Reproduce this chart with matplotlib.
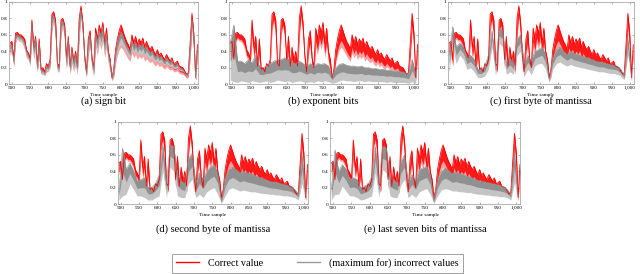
import matplotlib.pyplot as plt
import numpy as np
from matplotlib.ticker import FuncFormatter

# time grid for the correct-value band (every 5 samples)
t_fine = np.arange(495, 1011, 5)
# time grid for the incorrect-value bands (every 10 samples)
t_coarse = np.arange(495, 1006, 10)

correct_hi = [0.50, 0.52, 0.30, 0.62, 0.63, 0.60, 0.60, 0.58, 0.55, 0.42,
              0.38, 0.32, 0.78, 0.45, 0.58, 0.22, 0.55, 0.18, 0.20, 0.15,
              0.25, 0.22, 0.30, 0.85, 0.88, 0.78, 0.25, 0.22, 0.78, 0.80,
              0.72, 0.30, 0.58, 0.22, 0.45, 0.28, 0.40, 0.22, 0.80, 0.95,
              0.75, 0.35, 0.15, 0.55, 0.65, 0.32, 0.20, 0.68, 0.55, 0.72,
              0.62, 0.75, 0.50, 0.68, 0.40, 0.30, 0.08, 0.18, 0.42, 0.55,
              0.65, 0.72, 0.65, 0.58, 0.52, 0.48, 0.42, 0.60, 0.50, 0.58,
              0.48, 0.55, 0.50, 0.56, 0.45, 0.52, 0.46, 0.42, 0.46, 0.40,
              0.36, 0.42, 0.35, 0.38, 0.33, 0.30, 0.36, 0.32, 0.28, 0.32,
              0.25, 0.26, 0.28, 0.22, 0.21, 0.20, 0.16, 0.12, 0.14, 0.50,
              0.86, 0.62, 0.08, 0.48]
correct_lo = [0.35, 0.40, 0.20, 0.50, 0.55, 0.52, 0.52, 0.48, 0.42, 0.32,
              0.30, 0.22, 0.55, 0.30, 0.40, 0.15, 0.30, 0.12, 0.12, 0.10,
              0.15, 0.15, 0.20, 0.65, 0.75, 0.55, 0.15, 0.15, 0.60, 0.68,
              0.55, 0.18, 0.35, 0.12, 0.25, 0.15, 0.22, 0.12, 0.55, 0.80,
              0.55, 0.20, 0.08, 0.35, 0.45, 0.18, 0.10, 0.45, 0.35, 0.50,
              0.42, 0.52, 0.32, 0.45, 0.25, 0.15, 0.04, 0.08, 0.25, 0.35,
              0.42, 0.45, 0.42, 0.38, 0.34, 0.30, 0.28, 0.38, 0.32, 0.36,
              0.30, 0.34, 0.31, 0.34, 0.28, 0.31, 0.28, 0.26, 0.28, 0.24,
              0.22, 0.25, 0.21, 0.23, 0.20, 0.18, 0.21, 0.19, 0.17, 0.18,
              0.15, 0.15, 0.16, 0.13, 0.12, 0.12, 0.10, 0.07, 0.08, 0.30,
              0.65, 0.40, 0.04, 0.35]

# (a) sign bit: incorrect values follow the correct one closely (fine grid)
sign_hi = [0.46, 0.48, 0.28, 0.58, 0.60, 0.58, 0.57, 0.55, 0.50, 0.40,
           0.35, 0.28, 0.74, 0.42, 0.55, 0.20, 0.50, 0.16, 0.17, 0.13,
           0.22, 0.20, 0.27, 0.80, 0.84, 0.72, 0.22, 0.20, 0.74, 0.77,
           0.68, 0.27, 0.54, 0.20, 0.42, 0.25, 0.37, 0.20, 0.76, 0.90,
           0.70, 0.32, 0.13, 0.50, 0.60, 0.29, 0.18, 0.62, 0.50, 0.66,
           0.57, 0.70, 0.46, 0.62, 0.37, 0.27, 0.07, 0.16, 0.38, 0.50,
           0.58, 0.64, 0.58, 0.52, 0.47, 0.43, 0.38, 0.53, 0.45, 0.51,
           0.43, 0.49, 0.45, 0.50, 0.41, 0.46, 0.41, 0.38, 0.41, 0.36,
           0.33, 0.37, 0.32, 0.34, 0.30, 0.27, 0.32, 0.29, 0.26, 0.29,
           0.23, 0.23, 0.25, 0.20, 0.19, 0.18, 0.14, 0.11, 0.13, 0.45,
           0.80, 0.58, 0.07, 0.44]
sign_lo = [0.36, 0.42, 0.22, 0.52, 0.56, 0.53, 0.53, 0.50, 0.44, 0.34,
           0.31, 0.24, 0.58, 0.32, 0.43, 0.16, 0.33, 0.13, 0.13, 0.11,
           0.17, 0.16, 0.22, 0.68, 0.77, 0.58, 0.16, 0.16, 0.63, 0.70,
           0.58, 0.20, 0.38, 0.13, 0.27, 0.17, 0.24, 0.13, 0.58, 0.82,
           0.58, 0.22, 0.09, 0.38, 0.48, 0.20, 0.11, 0.48, 0.38, 0.53,
           0.45, 0.55, 0.35, 0.48, 0.27, 0.17, 0.05, 0.10, 0.28, 0.38,
           0.46, 0.49, 0.46, 0.42, 0.38, 0.34, 0.32, 0.42, 0.36, 0.40,
           0.34, 0.38, 0.35, 0.38, 0.32, 0.35, 0.32, 0.30, 0.32, 0.28,
           0.26, 0.29, 0.25, 0.27, 0.24, 0.22, 0.25, 0.23, 0.21, 0.22,
           0.19, 0.19, 0.20, 0.17, 0.16, 0.16, 0.13, 0.09, 0.10, 0.33,
           0.68, 0.44, 0.05, 0.38]

# (b) exponent bits (coarse grid)
expo_hi = [0.50, 0.72, 0.28, 0.28, 0.25, 0.30, 0.26, 0.35, 0.22, 0.20,
           0.22, 0.25, 0.28, 0.30, 0.30, 0.32, 0.30, 0.26, 0.25, 0.28,
           0.25, 0.22, 0.25, 0.22, 0.25, 0.24, 0.25, 0.22, 0.10, 0.20,
           0.24, 0.25, 0.23, 0.22, 0.22, 0.21, 0.22, 0.20, 0.20, 0.19,
           0.19, 0.18, 0.18, 0.17, 0.17, 0.16, 0.16, 0.15, 0.14, 0.12,
           0.30, 0.12]
expo_lo = [0.05, 0.03, 0.02, 0.04, 0.03, 0.02, 0.04, 0.03, 0.02, 0.03,
           0.04, 0.02, 0.03, 0.05, 0.04, 0.03, 0.04, 0.02, 0.03, 0.04,
           0.03, 0.02, 0.03, 0.02, 0.04, 0.03, 0.04, 0.03, 0.01, 0.02,
           0.04, 0.05, 0.04, 0.04, 0.03, 0.04, 0.04, 0.03, 0.04, 0.03,
           0.03, 0.03, 0.03, 0.02, 0.03, 0.02, 0.02, 0.02, 0.02, 0.01,
           0.03, 0.01]

# (c) first byte of mantissa
byte1_hi = [0.35, 0.70, 0.45, 0.50, 0.45, 0.32, 0.35, 0.30, 0.18, 0.18,
            0.22, 0.35, 0.65, 0.22, 0.68, 0.65, 0.25, 0.32, 0.25, 0.55,
            0.60, 0.25, 0.35, 0.28, 0.40, 0.42, 0.45, 0.35, 0.06, 0.32,
            0.42, 0.45, 0.40, 0.36, 0.40, 0.37, 0.36, 0.34, 0.33, 0.31,
            0.30, 0.28, 0.27, 0.27, 0.25, 0.24, 0.23, 0.22, 0.18, 0.10,
            0.55, 0.10]
byte1_lo = [0.15, 0.45, 0.25, 0.35, 0.30, 0.18, 0.20, 0.15, 0.08, 0.08,
            0.10, 0.18, 0.45, 0.10, 0.50, 0.45, 0.12, 0.15, 0.12, 0.35,
            0.40, 0.10, 0.18, 0.12, 0.22, 0.25, 0.25, 0.18, 0.02, 0.18,
            0.25, 0.27, 0.24, 0.22, 0.24, 0.22, 0.21, 0.20, 0.19, 0.18,
            0.17, 0.16, 0.15, 0.15, 0.14, 0.13, 0.13, 0.12, 0.10, 0.05,
            0.35, 0.04]

# (d) second byte of mantissa
byte2_hi = [0.15, 0.68, 0.42, 0.50, 0.40, 0.28, 0.30, 0.32, 0.20, 0.20,
            0.25, 0.35, 0.72, 0.25, 0.72, 0.70, 0.35, 0.28, 0.25, 0.55,
            0.62, 0.25, 0.38, 0.30, 0.40, 0.45, 0.48, 0.38, 0.03, 0.32,
            0.42, 0.45, 0.42, 0.38, 0.40, 0.38, 0.37, 0.35, 0.33, 0.32,
            0.30, 0.28, 0.27, 0.27, 0.25, 0.24, 0.23, 0.22, 0.18, 0.12,
            0.60, 0.10]
byte2_lo = [0.05, 0.10, 0.12, 0.25, 0.18, 0.10, 0.10, 0.08, 0.05, 0.05,
            0.08, 0.10, 0.40, 0.08, 0.45, 0.40, 0.10, 0.08, 0.08, 0.25,
            0.30, 0.08, 0.12, 0.08, 0.15, 0.18, 0.20, 0.12, 0.01, 0.10,
            0.18, 0.20, 0.18, 0.16, 0.17, 0.16, 0.15, 0.15, 0.14, 0.13,
            0.13, 0.12, 0.12, 0.11, 0.11, 0.10, 0.10, 0.09, 0.08, 0.05,
            0.25, 0.03]

# (e) last seven bits of mantissa
last7_hi = [0.18, 0.66, 0.40, 0.48, 0.42, 0.30, 0.32, 0.30, 0.20, 0.22,
            0.24, 0.33, 0.70, 0.24, 0.70, 0.68, 0.33, 0.30, 0.26, 0.52,
            0.60, 0.26, 0.36, 0.28, 0.42, 0.44, 0.46, 0.36, 0.03, 0.30,
            0.40, 0.44, 0.41, 0.37, 0.39, 0.37, 0.36, 0.34, 0.33, 0.31,
            0.29, 0.28, 0.27, 0.26, 0.25, 0.24, 0.23, 0.21, 0.18, 0.12,
            0.62, 0.10]
last7_lo = [0.05, 0.12, 0.12, 0.22, 0.16, 0.10, 0.10, 0.08, 0.05, 0.06,
            0.08, 0.10, 0.38, 0.08, 0.42, 0.38, 0.10, 0.08, 0.08, 0.24,
            0.30, 0.08, 0.12, 0.08, 0.15, 0.17, 0.19, 0.12, 0.01, 0.10,
            0.17, 0.19, 0.18, 0.16, 0.16, 0.15, 0.15, 0.14, 0.14, 0.13,
            0.12, 0.12, 0.11, 0.11, 0.10, 0.10, 0.09, 0.09, 0.08, 0.05,
            0.26, 0.03]

captions = ['(a) sign bit', '(b) exponent bits', '(c) first byte of mantissa',
            '(d) second byte of mantissa', '(e) last seven bits of mantissa']

plt.rcParams['font.family'] = ['Liberation Serif', 'DejaVu Serif']

fig = plt.figure(figsize=(6.4, 2.74), dpi=100)

# [left, bottom, width, height] in figure fractions
boxes = [[0.014, 0.693, 0.295, 0.300],
         [0.358, 0.693, 0.295, 0.300],
         [0.700, 0.693, 0.290, 0.300],
         [0.184, 0.255, 0.297, 0.300],
         [0.516, 0.255, 0.297, 0.300]]
caption_y = [0.631, 0.631, 0.631, 0.164, 0.164]

panels = [(t_fine, sign_lo, sign_hi),
          (t_coarse, expo_lo, expo_hi),
          (t_coarse, byte1_lo, byte1_hi),
          (t_coarse, byte2_lo, byte2_hi),
          (t_coarse, last7_lo, last7_hi)]

c_lo = np.array(correct_lo)
c_hi = np.array(correct_hi)

for box, (tg, g_lo, g_hi), cap, cy in zip(boxes, panels, captions, caption_y):
    ax = fig.add_axes(box)
    g_lo = np.array(g_lo)
    g_hi = np.array(g_hi)
    ax.fill_between(t_fine, c_lo, c_hi, color='#ffa0a0', lw=0)
    ax.fill_between(t_fine, c_lo + (c_hi - c_lo) * 0.3, c_hi, color='#ff1a1a', lw=0)
    ax.plot(t_fine, c_hi, color='#ff0000', lw=0.6)
    ax.fill_between(tg, g_lo, g_hi, color='#c4c4c4', lw=0)
    ax.fill_between(tg, (g_lo + g_hi) / 2, g_hi, color='#909090', lw=0)
    ax.plot(tg, g_hi, color='#888888', lw=0.4)

    ax.set_xlim(492, 1011)
    ax.set_ylim(0, 1)
    ax.set_xticks(np.arange(500, 1001, 50))
    ax.set_yticks([0, 0.2, 0.4, 0.6, 0.8, 1])
    ax.xaxis.set_major_formatter(FuncFormatter(lambda v, p: '{:,}'.format(int(v))))
    ax.yaxis.set_major_formatter(FuncFormatter(lambda v, p: '{:g}'.format(v)))
    ax.tick_params(labelsize=3.8, direction='in', length=1.5, width=0.4,
                   color='#777777', pad=1.2, top=True, right=True)
    for s in ax.spines.values():
        s.set_color('#999999')
        s.set_linewidth(0.5)
    ax.set_xlabel('Time sample', fontsize=3.8, labelpad=2.0)
    fig.text(box[0] + box[2] / 2, cy, cap, ha='center', va='center', fontsize=7.5)

handles = [plt.Line2D([], [], color='red', lw=1.0),
           plt.Line2D([], [], color='#9a9a9a', lw=1.0)]
leg = fig.legend(handles, ['Correct value', '(maximum for) incorrect values'],
                 loc='center', bbox_to_anchor=(0.496, 0.04), ncol=2,
                 fontsize=7.3, frameon=True, fancybox=False, handlelength=2.2,
                 handletextpad=0.9, columnspacing=3.4, borderpad=0.45)
leg.get_frame().set_edgecolor('#888888')
leg.get_frame().set_linewidth(0.7)

fig.savefig('out.png', dpi=100)
